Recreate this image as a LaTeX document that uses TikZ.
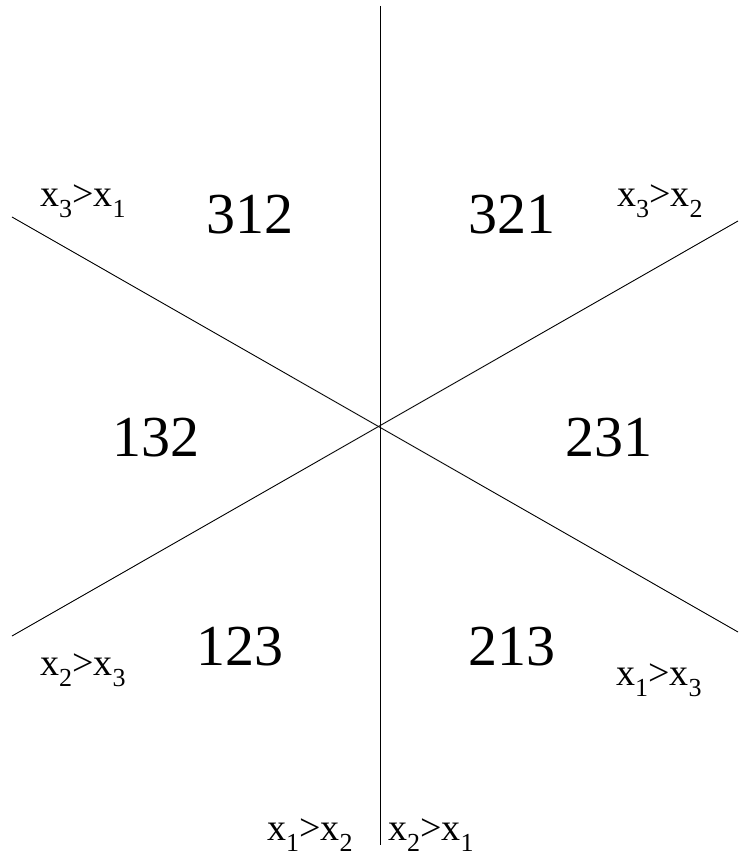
\documentclass[tikz,border=0pt]{standalone}
\usepackage{fontspec}
\setmainfont{Liberation Serif}
\newcommand{\sbs}[1]{\raisebox{-11pt}{\fontsize{26}{26}\selectfont #1}}
\begin{document}
\begin{tikzpicture}[x=1pt,y=-1pt,
  ln/.style={line width=0.9pt},
  big/.style={font=\fontsize{58}{58}\selectfont, inner sep=0, anchor=base},
  lab/.style={font=\fontsize{38}{38}\selectfont, inner sep=0, anchor=base west}]
\useasboundingbox (0,0) rectangle (738,858);
\coordinate (c) at (380,426);
\coordinate (t) at (380,6);
\coordinate (b) at (380,845);
\coordinate (ul) at (12,217);
\coordinate (lr) at (738,632);
\coordinate (ur) at (738,221);
\coordinate (ll) at (12,636);
\draw[ln] (t) -- (b);
\draw[ln] (ul) -- (lr);
\draw[ln] (ur) -- (ll);
\node[big] (n312) at (250,234) {312};
\node[big] (n321) at (512,234) {321};
\node[big] (n132) at (156,456) {132};
\node[big] (n231) at (609,456) {231};
\node[big] (n123) at (240,665) {123};
\node[big] (n213) at (512,665) {213};
\node[lab] (l31) at (40,207) {x\sbs{3}>x\sbs{1}};
\node[lab] (l32) at (617,207) {x\sbs{3}>x\sbs{2}};
\node[lab] (l23) at (40,675) {x\sbs{2}>x\sbs{3}};
\node[lab] (l13) at (616,685) {x\sbs{1}>x\sbs{3}};
\node[lab] (l12) at (267,840) {x\sbs{1}>x\sbs{2}};
\node[lab] (l21) at (388,840) {x\sbs{2}>x\sbs{1}};
\end{tikzpicture}
\end{document}
